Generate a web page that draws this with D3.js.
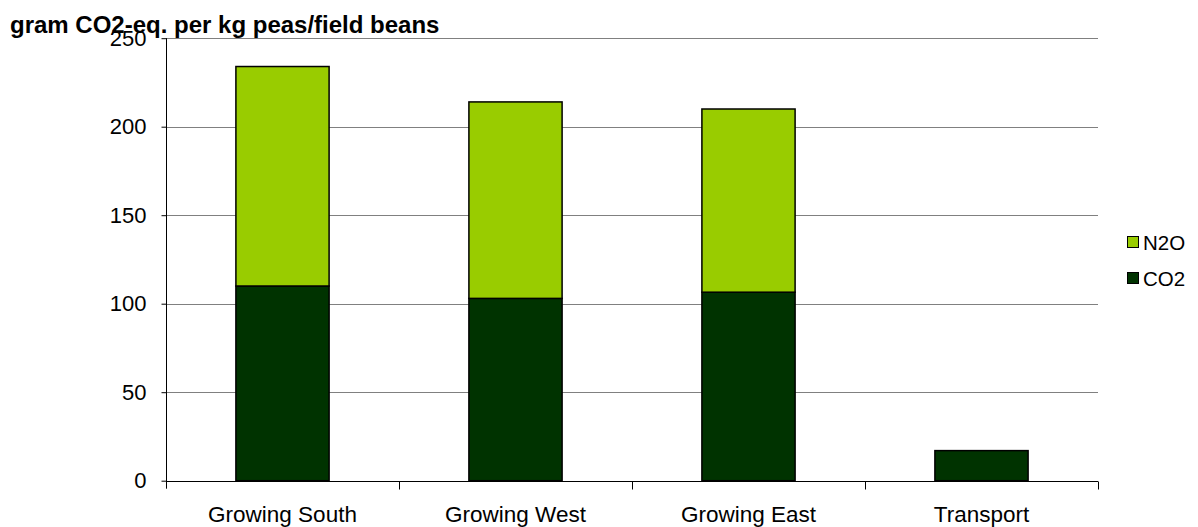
<!DOCTYPE html>
<html><head><meta charset="utf-8">
<script src="https://cdn.jsdelivr.net/npm/d3@7"></script>
<style>body{margin:0;background:#fff}svg{display:block}text{font-family:"Liberation Sans",Arial,sans-serif}</style>
</head><body>
<script>
const categories = ["Growing South", "Growing West", "Growing East", "Transport"];
const co2 = [110, 103, 106.5, 17];
const n2o = [124, 111, 103.5, 0];
const yTicks = [0, 50, 100, 150, 200, 250];
const seriesNames = ["CO2", "N2O"];
const colors = {CO2: "#003300", N2O: "#99CC00"};

const W = 1198, H = 527;
const m = {left: 166, right: 100, top: 38.2, bottom: 46.3};
const svg = d3.select("body").append("svg").attr("width", W).attr("height", H);
const x = d3.scaleBand().domain(categories).range([m.left, W - m.right]).paddingInner(0.6).paddingOuter(0.3);
const xb = d3.scaleBand().domain(categories).range([m.left, W - m.right]);
const y = d3.scaleLinear().domain([0, 250]).range([H - m.bottom, m.top]);
const FS = 22;

// grid
svg.append("g").selectAll("line").data(yTicks.slice(1)).join("line")
  .attr("x1", m.left).attr("x2", W - m.right)
  .attr("y1", d => Math.round(y(d)) + 0.5).attr("y2", d => Math.round(y(d)) + 0.5)
  .attr("stroke", "#808080").attr("stroke-width", 1);

const rows = categories.map((c, i) => ({cat: c, CO2: co2[i], N2O: n2o[i]}));
const stack = d3.stack().keys(seriesNames)(rows);
svg.append("g").selectAll("g").data(stack).join("g")
  .attr("fill", d => colors[d.key])
  .selectAll("rect").data(d => d.filter(p => p[1] - p[0] > 0)).join("rect")
  .attr("x", d => x(d.data.cat)).attr("width", x.bandwidth())
  .attr("y", d => y(d[1])).attr("height", d => y(d[0]) - y(d[1]))
  .attr("stroke", "#000").attr("stroke-width", 1.5);

// y axis
const ya = svg.append("g").attr("transform", `translate(${m.left + 0.5},0)`)
  .call(d3.axisLeft(y).tickValues(yTicks).tickSize(5).tickPadding(15));
ya.select(".domain").attr("stroke", "#000").attr("d", `M-0,${y(250)}V${y(0) + 8}`);
ya.selectAll(".tick line").attr("stroke", "#000");
ya.selectAll(".tick text").attr("font-size", FS).attr("fill", "#000")
  .attr("font-family", '"Liberation Sans",Arial,sans-serif');

// x axis
const baseY = Math.round(y(0)) + 0.5;
const xa = svg.append("g");
xa.append("line").attr("x1", m.left).attr("x2", W - m.right).attr("y1", baseY).attr("y2", baseY).attr("stroke", "#000");
const bounds = categories.map(c => xb(c)).concat([W - m.right]);
xa.selectAll("line.t").data(bounds.slice(1)).join("line").attr("class", "t")
  .attr("x1", d => Math.round(d) + 0.5).attr("x2", d => Math.round(d) + 0.5)
  .attr("y1", baseY).attr("y2", baseY + 8).attr("stroke", "#000");
xa.selectAll("text").data(categories).join("text")
  .attr("x", d => xb(d) + xb.bandwidth() / 2).attr("y", 522)
  .attr("text-anchor", "middle").attr("font-size", 22.5).attr("fill", "#000").text(d => d);

// title
svg.append("text").attr("x", 10).attr("y", 33).attr("font-size", 24).attr("font-weight", "bold")
  .attr("fill", "#000").text("gram CO2-eq. per kg peas/field beans");

// legend
const legend = [{k: "N2O", y: 242}, {k: "CO2", y: 278}];
const lg = svg.append("g").selectAll("g").data(legend).join("g");
lg.append("rect").attr("x", 1127.5).attr("y", d => d.y - 5.5).attr("width", 11).attr("height", 11)
  .attr("fill", d => colors[d.k]).attr("stroke", "#000").attr("stroke-width", 1);
lg.append("text").attr("x", 1143).attr("y", d => d.y + 7.5).attr("font-size", 20.5).attr("fill", "#000").text(d => d.k);
</script>
</body></html>
